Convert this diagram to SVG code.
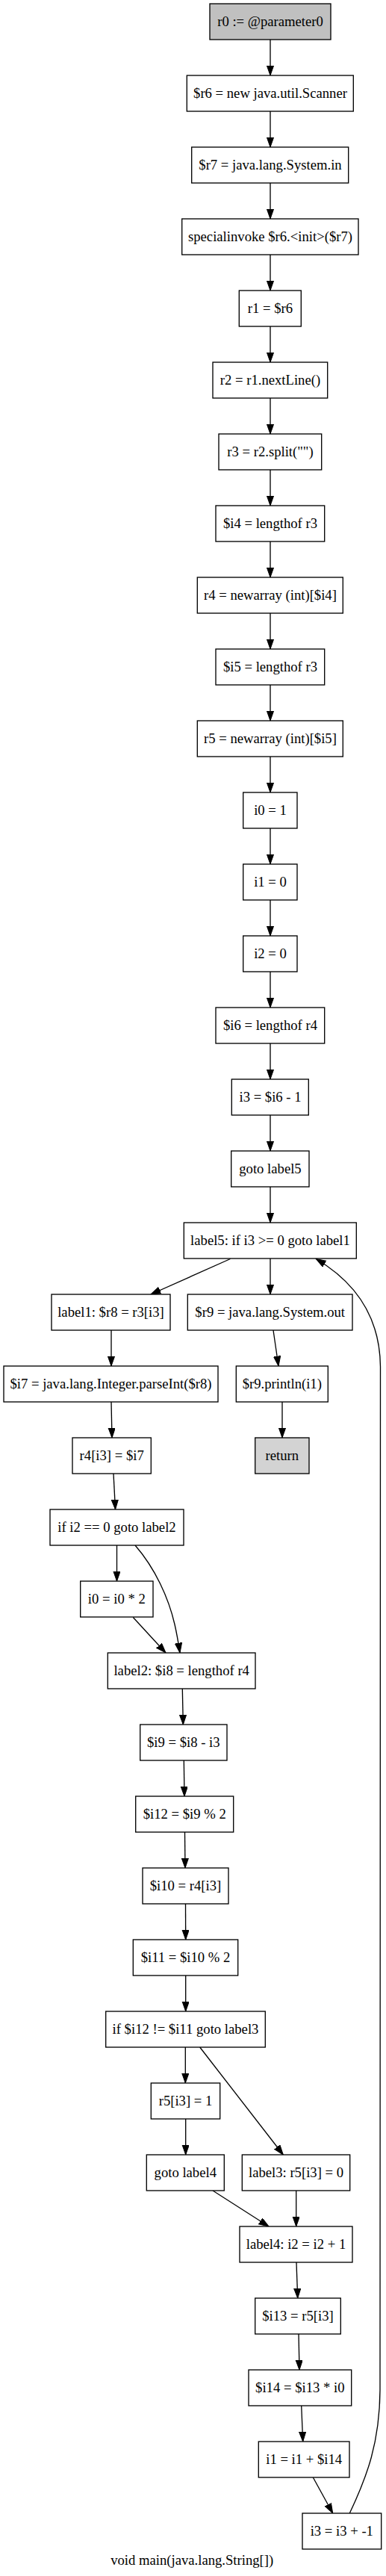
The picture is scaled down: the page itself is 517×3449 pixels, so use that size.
<svg xmlns="http://www.w3.org/2000/svg" width="517" height="3449" viewBox="0 0 517 3449">
<style>
.n rect{fill:#ffffff;stroke:#000000;stroke-width:1.33}
.n.g1 rect{fill:#c0c0c0}
.n.g2 rect{fill:#d3d3d3}
text{font-family:"Liberation Serif","Times New Roman",serif;font-size:18.67px;fill:#000000;text-anchor:middle}
.e path{fill:none;stroke:#000000;stroke-width:1.33;marker-end:url(#ah)}
</style>
<defs>
<marker id="ah" markerUnits="userSpaceOnUse" markerWidth="15" markerHeight="11" refX="13.3" refY="4.67" orient="auto">
<path d="M0,0 L13.3,4.67 L0,9.33 Z" fill="#000000" stroke="#000000" stroke-width="1"/>
</marker>
</defs>
<rect x="0" y="0" width="517" height="3449" fill="#ffffff"/>
<g id="edges" class="e">
<path d="M362,53 L362,101"/>
<path d="M362,149 L362,197"/>
<path d="M362,245 L362,293"/>
<path d="M362,341 L362,389"/>
<path d="M362,437 L362,485"/>
<path d="M362,533 L362,581"/>
<path d="M362,629 L362,677"/>
<path d="M362,725 L362,773"/>
<path d="M362,821 L362,869"/>
<path d="M362,917 L362,965"/>
<path d="M362,1013 L362,1061"/>
<path d="M362,1109 L362,1157"/>
<path d="M362,1205 L362,1253"/>
<path d="M362,1301 L362,1349"/>
<path d="M362,1397 L362,1445"/>
<path d="M362,1493 L362,1541"/>
<path d="M362,1589 L362,1637"/>
<path d="M308.5,1685.5 L202,1733"/>
<path d="M362,1685 L362,1733"/>
<path d="M366,1781 L373,1829"/>
<path d="M378,1877 L378,1925"/>
<path d="M149,1781 L149,1829"/>
<path d="M149,1877 L150,1925"/>
<path d="M152,1973 L154.5,2021"/>
<path d="M156.5,2069 L156.5,2117"/>
<path d="M181,2069 C208,2100 226,2140 234,2175 C237,2188 239,2200 241,2213"/>
<path d="M178.3,2165.5 L222,2213"/>
<path d="M244.3,2261 L245.3,2309"/>
<path d="M246.3,2357 L247,2405"/>
<path d="M247.5,2453 L248,2501"/>
<path d="M248.5,2549 L248.7,2597"/>
<path d="M248.7,2645 L248.7,2693"/>
<path d="M248.3,2741 L248.3,2789"/>
<path d="M267.7,2741 L379.3,2885"/>
<path d="M248.7,2837 L248.7,2885"/>
<path d="M285,2933 L360,2981"/>
<path d="M396.7,2933 L396.7,2981"/>
<path d="M397,3029 L398.7,3077"/>
<path d="M400,3125 L401,3173"/>
<path d="M403.7,3221 L405.7,3269"/>
<path d="M419.3,3317 L445.7,3365"/>
<path d="M468.3,3365 C492,3315 508.5,3270 509,3200 L509.5,1830 C509,1765 478,1718 423.3,1685.5"/>
</g>
<g id="n0" class="n g1"><rect x="281" y="5" width="162" height="48"/><text x="362" y="35">r0 := @parameter0</text></g>
<g id="n1" class="n"><rect x="250.3" y="101" width="223" height="48"/><text x="362" y="131">$r6 = new java.util.Scanner</text></g>
<g id="n2" class="n"><rect x="256.7" y="197" width="210" height="48"/><text x="362" y="227">$r7 = java.lang.System.in</text></g>
<g id="n3" class="n"><rect x="243.7" y="293" width="236.3" height="48"/><text x="362" y="323">specialinvoke $r6.&lt;init&gt;($r7)</text></g>
<g id="n4" class="n"><rect x="320.3" y="389" width="83" height="48"/><text x="362" y="419">r1 = $r6</text></g>
<g id="n5" class="n"><rect x="285" y="485" width="153.7" height="48"/><text x="362" y="515">r2 = r1.nextLine()</text></g>
<g id="n6" class="n"><rect x="293" y="581" width="137.7" height="48"/><text x="362" y="611">r3 = r2.split("")</text></g>
<g id="n7" class="n"><rect x="289" y="677" width="145.7" height="48"/><text x="362" y="707">$i4 = lengthof r3</text></g>
<g id="n8" class="n"><rect x="264.3" y="773" width="195" height="48"/><text x="362" y="803">r4 = newarray (int)[$i4]</text></g>
<g id="n9" class="n"><rect x="289" y="869" width="145.7" height="48"/><text x="362" y="899">$i5 = lengthof r3</text></g>
<g id="n10" class="n"><rect x="264.3" y="965" width="195" height="48"/><text x="362" y="995">r5 = newarray (int)[$i5]</text></g>
<g id="n11" class="n"><rect x="325.7" y="1061" width="72.3" height="48"/><text x="362" y="1091">i0 = 1</text></g>
<g id="n12" class="n"><rect x="325.7" y="1157" width="72.3" height="48"/><text x="362" y="1187">i1 = 0</text></g>
<g id="n13" class="n"><rect x="325.7" y="1253" width="72.3" height="48"/><text x="362" y="1283">i2 = 0</text></g>
<g id="n14" class="n"><rect x="289" y="1349" width="145.7" height="48"/><text x="362" y="1379">$i6 = lengthof r4</text></g>
<g id="n15" class="n"><rect x="310.3" y="1445" width="103" height="48"/><text x="362" y="1475">i3 = $i6 - 1</text></g>
<g id="n16" class="n"><rect x="309.7" y="1541" width="104.3" height="48"/><text x="362" y="1571">goto label5</text></g>
<g id="n17" class="n"><rect x="246.3" y="1637" width="231" height="48"/><text x="362" y="1667">label5: if i3 &gt;= 0 goto label1</text></g>
<g id="n18" class="n"><rect x="69" y="1733" width="159" height="48"/><text x="148.5" y="1763">label1: $r8 = r3[i3]</text></g>
<g id="n19" class="n"><rect x="251.3" y="1733" width="220.7" height="48"/><text x="361.7" y="1763">$r9 = java.lang.System.out</text></g>
<g id="n20" class="n"><rect x="5" y="1829" width="287" height="48"/><text x="148.5" y="1859">$i7 = java.lang.Integer.parseInt($r8)</text></g>
<g id="n21" class="n"><rect x="316.3" y="1829" width="123" height="48"/><text x="377.8" y="1859">$r9.println(i1)</text></g>
<g id="n22" class="n"><rect x="97" y="1925" width="105.3" height="48"/><text x="149.7" y="1955">r4[i3] = $i7</text></g>
<g id="n23" class="n g2"><rect x="341.7" y="1925" width="72.3" height="48"/><text x="377.8" y="1955">return</text></g>
<g id="n24" class="n"><rect x="67" y="2021" width="179" height="48"/><text x="156.5" y="2051">if i2 == 0 goto label2</text></g>
<g id="n25" class="n"><rect x="107.7" y="2117" width="97.3" height="48"/><text x="156.3" y="2147">i0 = i0 * 2</text></g>
<g id="n26" class="n"><rect x="144.3" y="2213" width="197.7" height="48"/><text x="243.2" y="2243">label2: $i8 = lengthof r4</text></g>
<g id="n27" class="n"><rect x="187.7" y="2309" width="116.3" height="48"/><text x="245.8" y="2339">$i9 = $i8 - i3</text></g>
<g id="n28" class="n"><rect x="181.7" y="2405" width="131" height="48"/><text x="247.2" y="2435">$i12 = $i9 % 2</text></g>
<g id="n29" class="n"><rect x="191" y="2501" width="115" height="48"/><text x="248.5" y="2531">$i10 = r4[i3]</text></g>
<g id="n30" class="n"><rect x="178.3" y="2597" width="140.4" height="48"/><text x="248.5" y="2627">$i11 = $i10 % 2</text></g>
<g id="n31" class="n"><rect x="141.7" y="2693" width="213.6" height="48"/><text x="248.5" y="2723">if $i12 != $i11 goto label3</text></g>
<g id="n32" class="n"><rect x="202.3" y="2789" width="92.4" height="48"/><text x="248.5" y="2819">r5[i3] = 1</text></g>
<g id="n33" class="n"><rect x="196.3" y="2885" width="104" height="48"/><text x="248.3" y="2915">goto label4</text></g>
<g id="n34" class="n"><rect x="324.3" y="2885" width="144.4" height="48"/><text x="396.5" y="2915">label3: r5[i3] = 0</text></g>
<g id="n35" class="n"><rect x="321" y="2981" width="151" height="48"/><text x="396.5" y="3011">label4: i2 = i2 + 1</text></g>
<g id="n36" class="n"><rect x="341.7" y="3077" width="114.6" height="48"/><text x="399" y="3107">$i13 = r5[i3]</text></g>
<g id="n37" class="n"><rect x="333" y="3173" width="137.7" height="48"/><text x="401.8" y="3203">$i14 = $i13 * i0</text></g>
<g id="n38" class="n"><rect x="346.3" y="3269" width="121.7" height="48"/><text x="407.2" y="3299">i1 = i1 + $i14</text></g>
<g id="n39" class="n"><rect x="405" y="3365" width="105.7" height="48"/><text x="457.8" y="3395">i3 = i3 + -1</text></g>
<text id="caption" x="257.2" y="3434">void main(java.lang.String[])</text>
</svg>
